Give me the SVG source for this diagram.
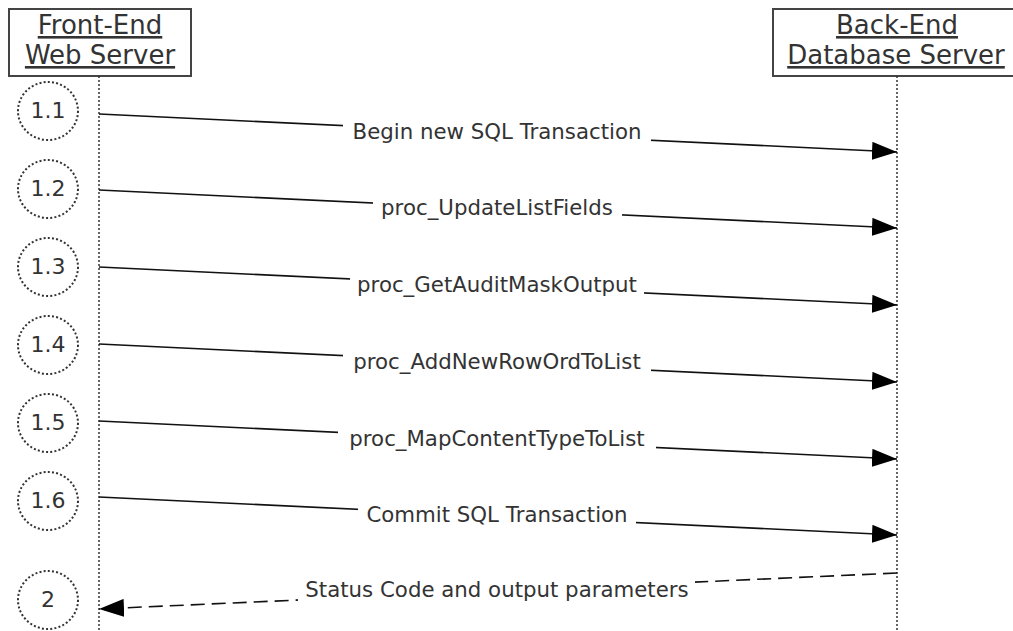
<svg xmlns="http://www.w3.org/2000/svg" width="1013" height="631" viewBox="0 0 1013 631">
<style>
.hdr{font-family:"DejaVu Sans","Verdana",sans-serif;font-size:26px;fill:#333;text-anchor:middle;text-decoration:underline}
.box{fill:#fff;stroke:#444;stroke-width:2}
.life{stroke:#333;stroke-width:1.5;stroke-dasharray:2,2;fill:none}
.circ{fill:#fff;stroke:#333;stroke-width:2;stroke-dasharray:2,2.2}
.num{font-family:"DejaVu Sans","Verdana",sans-serif;font-size:22px;fill:#333;text-anchor:middle}
.msg{stroke:#111;stroke-width:1.6;fill:none;marker-end:url(#ah)}
.ret{stroke:#111;stroke-width:1.6;fill:none;stroke-dasharray:14,7;marker-end:url(#ah)}
.lbl{font-family:"DejaVu Sans","Verdana",sans-serif;font-size:21.3px;fill:#333;text-anchor:middle}
.bg{fill:#fff}
</style>
<defs>
<marker id="ah" markerUnits="userSpaceOnUse" markerWidth="26" markerHeight="18" refX="25" refY="9" orient="auto">
<path d="M0,0 L25,9 L0,18 Z" fill="#000"/>
</marker>
</defs>
<g id="frontend">
<rect class="box" x="9" y="9" width="182" height="67"/>
<text class="hdr" x="100" y="34">Front-End</text>
<text class="hdr" x="100" y="64">Web Server</text>
<line class="life" x1="99" y1="76" x2="99" y2="631"/>
</g>
<g id="backend">
<rect class="box" x="773" y="9" width="250" height="67"/>
<text class="hdr" x="897" y="34">Back-End</text>
<text class="hdr" x="896" y="64">Database Server</text>
<line class="life" x1="897" y1="76" x2="897" y2="631"/>
</g>
<g id="step1_1"><ellipse class="circ" cx="48" cy="111" rx="30" ry="29"/><text class="num" x="48" y="118">1.1</text></g>
<g id="step1_2"><ellipse class="circ" cx="48" cy="189" rx="30" ry="29"/><text class="num" x="48" y="196">1.2</text></g>
<g id="step1_3"><ellipse class="circ" cx="48" cy="267" rx="30" ry="29"/><text class="num" x="48" y="274">1.3</text></g>
<g id="step1_4"><ellipse class="circ" cx="48" cy="345" rx="30" ry="29"/><text class="num" x="48" y="352">1.4</text></g>
<g id="step1_5"><ellipse class="circ" cx="48" cy="423" rx="30" ry="29"/><text class="num" x="48" y="430">1.5</text></g>
<g id="step1_6"><ellipse class="circ" cx="48" cy="501" rx="30" ry="29"/><text class="num" x="48" y="508">1.6</text></g>
<g id="step2"><ellipse class="circ" cx="48" cy="600" rx="30" ry="29"/><text class="num" x="48" y="607">2</text></g>
<g id="connectors">
<line class="msg" x1="99" y1="114" x2="897" y2="152"/>
<rect class="bg" x="343" y="119" width="308" height="27"/>
<text class="lbl" x="497" y="139">Begin new SQL Transaction</text>

<line class="msg" x1="99" y1="190" x2="897" y2="228"/>
<rect class="bg" x="373" y="195" width="249" height="27"/>
<text class="lbl" x="497" y="215">proc_UpdateListFields</text>

<line class="msg" x1="99" y1="267" x2="897" y2="305"/>
<rect class="bg" x="350" y="272" width="294" height="27"/>
<text class="lbl" x="497" y="292">proc_GetAuditMaskOutput</text>

<line class="msg" x1="99" y1="344" x2="897" y2="382"/>
<rect class="bg" x="343" y="349" width="308" height="27"/>
<text class="lbl" x="497" y="369">proc_AddNewRowOrdToList</text>

<line class="msg" x1="99" y1="421" x2="897" y2="459"/>
<rect class="bg" x="338" y="426" width="318" height="27"/>
<text class="lbl" x="497" y="446">proc_MapContentTypeToList</text>

<line class="msg" x1="99" y1="497" x2="897" y2="535"/>
<rect class="bg" x="358" y="502" width="278" height="27"/>
<text class="lbl" x="497" y="522">Commit SQL Transaction</text>

<line class="ret" x1="897" y1="573" x2="99" y2="609"/>
<rect class="bg" x="298" y="577" width="397" height="27"/>
<text class="lbl" x="497" y="597">Status Code and output parameters</text>
</g>
</svg>
